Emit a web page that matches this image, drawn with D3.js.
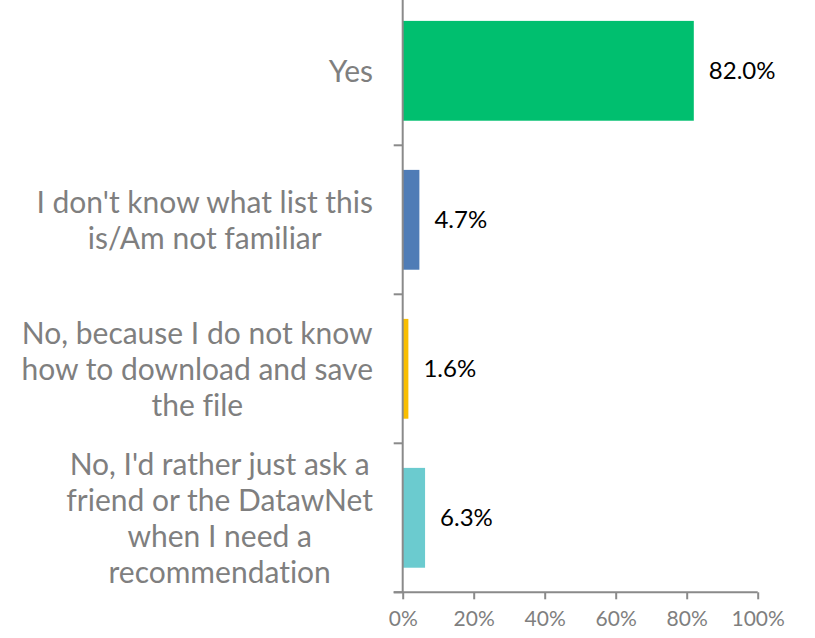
<!DOCTYPE html>
<html>
<head>
<meta charset="utf-8">
<script src="https://cdn.jsdelivr.net/npm/d3@7"></script>
<style>
  html, body { margin: 0; padding: 0; background: #fff; }
  svg { display: block; }
  text { font-variant-ligatures: none; font-feature-settings: "liga" 0, "dlig" 0; }
</style>
</head>
<body>
<svg id="chart" width="815" height="638"></svg>
<script>
// Survey answers, top to bottom, with their line breaks
const categories = [
  ["Yes"],
  ["I don't know what list this", "is/Am not familiar"],
  ["No, because I do not know", "how to download and save", "the file"],
  ["No, I'd rather just ask a", "friend or the DatawNet", "when I need a", "recommendation"]
];
const values = [0.820, 0.047, 0.016, 0.063];
const colors = ["#00bf6f", "#4f7cb6", "#f9be00", "#6bcbcf"];
const tickValues = [0, 0.2, 0.4, 0.6, 0.8, 1.0];

const FONT = "Lato, 'Open Sans', sans-serif";
const axisColor = "#8a8a8a";
const labelColor = "#7f7f7f";

const svg = d3.select("#chart");

const x = d3.scaleLinear().domain([0, 1]).range([402.7, 757.7]);
const y = d3.scaleBand()
  .domain(d3.range(categories.length))
  .range([-3.7, 592.3])
  .paddingInner(0.33)
  .paddingOuter(0.165);

// Bars
svg.append("g").selectAll("rect")
  .data(values)
  .join("rect")
  .attr("x", x(0))
  .attr("y", (d, i) => y(i))
  .attr("width", d => x(d) - x(0))
  .attr("height", y.bandwidth())
  .attr("fill", (d, i) => colors[i]);

// Value labels
svg.append("g").selectAll("text")
  .data(values)
  .join("text")
  .attr("x", d => x(d) + 15)
  .attr("y", (d, i) => y(i) + y.bandwidth() / 2)
  .attr("dy", "0.36em")
  .attr("font-family", FONT)
  .attr("font-size", 24)
  .attr("fill", "#000")
  .text(d => d3.format(".1%")(d));

// Category axis: line plus ticks at the band boundaries
const step = y.step();
const first = y(0) - y.paddingInner() * step / 2;
const boundaries = d3.range(categories.length + 1).map(i => first + i * step);
const yAxis = svg.append("g");
yAxis.append("line")
  .attr("x1", x(0)).attr("x2", x(0))
  .attr("y1", first).attr("y2", boundaries[boundaries.length - 1])
  .attr("stroke", axisColor).attr("stroke-width", 2);
yAxis.selectAll("line.tick")
  .data(boundaries)
  .join("line")
  .attr("class", "tick")
  .attr("x1", x(0) - 9).attr("x2", x(0))
  .attr("y1", d => d).attr("y2", d => d)
  .attr("stroke", axisColor).attr("stroke-width", 2);

// Category labels: each block right-aligned, lines centred within the block
const lineHeight = 36;
const labelRight = 373;
const labels = svg.append("g")
  .attr("font-family", FONT)
  .attr("font-size", 30)
  .attr("fill", labelColor);
categories.forEach((lines, i) => {
  const g = labels.append("g");
  const texts = g.selectAll("text")
    .data(lines)
    .join("text")
    .attr("text-anchor", "middle")
    .text(d => d);
  let w = 0;
  texts.each(function () { w = Math.max(w, this.getComputedTextLength()); });
  const cx = labelRight - w / 2;
  const cy = y(i) + y.bandwidth() / 2;
  const top = cy - (lines.length - 1) * lineHeight / 2;
  texts.attr("x", cx)
    .attr("y", (d, j) => top + j * lineHeight)
    .attr("dy", "0.36em");
});

// Percentage axis along the bottom
const xAxis = svg.append("g")
  .attr("transform", `translate(0,${boundaries[boundaries.length - 1]})`)
  .call(d3.axisBottom(x)
    .tickValues(tickValues)
    .tickFormat(d3.format(".0%"))
    .tickSize(7)
    .tickSizeOuter(0)
    .tickPadding(12));
xAxis.select(".domain").attr("stroke", axisColor).attr("stroke-width", 2)
  .attr("d", `M${x(0) - 9},0H${x(1)}`);
xAxis.selectAll(".tick line").attr("stroke", axisColor).attr("stroke-width", 2);
xAxis.selectAll(".tick text")
  .attr("font-family", FONT)
  .attr("font-size", 21)
  .attr("fill", labelColor);
</script>
</body>
</html>
